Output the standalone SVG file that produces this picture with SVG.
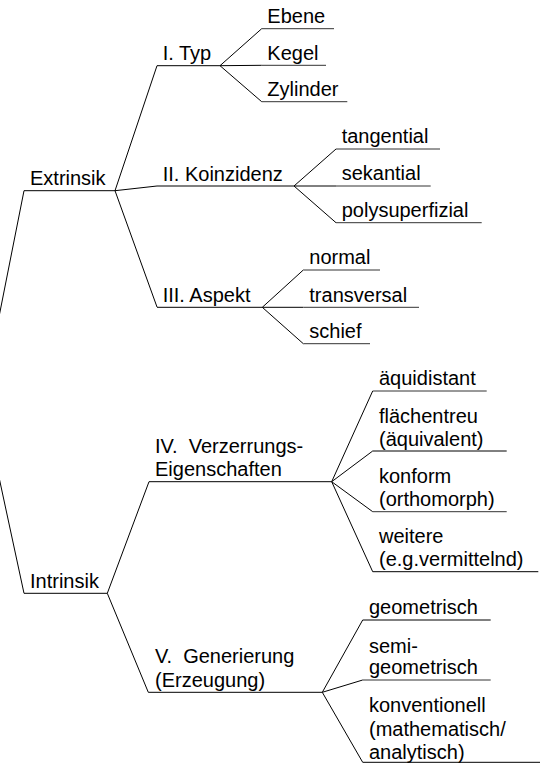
<svg xmlns="http://www.w3.org/2000/svg" width="550" height="764" viewBox="0 0 550 764">
<style>
text{font-family:"Liberation Sans",Arial,sans-serif;font-size:20px;fill:#000;white-space:pre}
line,polyline{stroke:#000;stroke-width:1;fill:none}
.u{stroke:#333}
</style>
<rect width="550" height="764" fill="#fff"/>
<g id="connectors">
<line x1="24" y1="190.7" x2="-6" y2="342"/>
<line x1="24" y1="593.3" x2="-6" y2="454"/>
<line x1="115" y1="190.7" x2="157" y2="65.7"/>
<line x1="115" y1="190.7" x2="157" y2="186"/>
<line x1="115" y1="190.7" x2="157" y2="307"/>
<line x1="220" y1="65.7" x2="261.7" y2="28.7"/>
<line x1="220" y1="65.7" x2="261.7" y2="65.3"/>
<line x1="220" y1="65.7" x2="261.7" y2="101.7"/>
<line x1="294" y1="186" x2="336" y2="149"/>
<line x1="294" y1="186" x2="336" y2="186"/>
<line x1="294" y1="186" x2="336" y2="222.7"/>
<line x1="262.3" y1="307.3" x2="303.3" y2="270"/>
<line x1="262.3" y1="307.3" x2="303.3" y2="307.3"/>
<line x1="262.3" y1="307.3" x2="303.3" y2="343.7"/>
<line x1="107.3" y1="593.3" x2="149" y2="481.7"/>
<line x1="107.3" y1="593.3" x2="148.3" y2="692.3"/>
<line x1="331.7" y1="481.7" x2="372.7" y2="391"/>
<line x1="331.7" y1="481.7" x2="372.7" y2="451"/>
<line x1="331.7" y1="481.7" x2="372.7" y2="511.7"/>
<line x1="331.7" y1="481.7" x2="372.7" y2="571.7"/>
<line x1="322.3" y1="692.3" x2="362.7" y2="620"/>
<line x1="322.3" y1="692.3" x2="362.7" y2="680"/>
<line x1="322.3" y1="692.3" x2="362.7" y2="762.3"/>
</g>
<g id="extrinsik"><line x1="24" y1="190.7" x2="115" y2="190.7"/><text x="30" y="185">Extrinsik</text></g>
<g id="typ"><line x1="157" y1="65.7" x2="220" y2="65.7"/><text x="162.7" y="60">I. Typ</text></g>
<g id="ebene"><line class="u" x1="261.7" y1="28.7" x2="334" y2="28.7"/><text x="267.3" y="23">Ebene</text></g>
<g id="kegel"><line class="u" x1="261.7" y1="65.3" x2="326" y2="65.3"/><text x="267.3" y="59.5">Kegel</text></g>
<g id="zylinder"><line class="u" x1="261.7" y1="101.7" x2="347.3" y2="101.7"/><text x="267.3" y="96">Zylinder</text></g>
<g id="koinzidenz"><line x1="157" y1="186" x2="294" y2="186"/><text x="162.7" y="180.5">II. Koinzidenz</text></g>
<g id="tangential"><line class="u" x1="336" y1="149" x2="440" y2="149"/><text x="341.7" y="143.3">tangential</text></g>
<g id="sekantial"><line class="u" x1="336" y1="186" x2="430.7" y2="186"/><text x="341.7" y="180.3">sekantial</text></g>
<g id="polysuperfizial"><line class="u" x1="336" y1="222.7" x2="481.7" y2="222.7"/><text x="341.7" y="217">polysuperfizial</text></g>
<g id="aspekt"><line x1="157" y1="307.3" x2="262.3" y2="307.3"/><text x="162.7" y="301.5">III. Aspekt</text></g>
<g id="normal"><line class="u" x1="303.3" y1="270" x2="380" y2="270"/><text x="309.3" y="264.3">normal</text></g>
<g id="transversal"><line class="u" x1="303.3" y1="307.3" x2="419" y2="307.3"/><text x="309.3" y="301.5">transversal</text></g>
<g id="schief"><line class="u" x1="303.3" y1="343.7" x2="370" y2="343.7"/><text x="309.3" y="338">schief</text></g>
<g id="intrinsik"><line x1="24" y1="593.3" x2="107.3" y2="593.3"/><text x="30" y="587.5">Intrinsik</text></g>
<g id="verzerrung"><line x1="149" y1="481.7" x2="331.7" y2="481.7"/><text x="155" y="452.7">IV.  Verzerrungs-</text><text x="155" y="476">Eigenschaften</text></g>
<g id="aequidistant"><line class="u" x1="372.7" y1="391" x2="486.7" y2="391"/><text x="379" y="385">äquidistant</text></g>
<g id="flaechentreu"><line x1="372.7" y1="451" x2="506.7" y2="451"/><text x="379" y="422.7">flächentreu</text><text x="379" y="446.3">(äquivalent)</text></g>
<g id="konform"><line class="u" x1="372.7" y1="511.7" x2="506.7" y2="511.7"/><text x="379" y="482.7">konform</text><text x="379" y="506.3">(orthomorph)</text></g>
<g id="weitere"><line x1="372.7" y1="571.7" x2="538.3" y2="571.7"/><text x="379" y="542.7">weitere</text><text x="379" y="566.3">(e.g.vermittelnd)</text></g>
<g id="generierung"><line x1="148.3" y1="692.3" x2="322.3" y2="692.3"/><text x="155" y="663.3">V.  Generierung</text><text x="155" y="686.7">(Erzeugung)</text></g>
<g id="geometrisch"><line x1="362.7" y1="620" x2="490.7" y2="620"/><text x="369" y="613.5">geometrisch</text></g>
<g id="semigeometrisch"><line class="u" x1="362.7" y1="680" x2="490.7" y2="680"/><text x="369" y="652.5">semi-</text><text x="369" y="674">geometrisch</text></g>
<g id="konventionell"><line x1="362.7" y1="762.3" x2="540" y2="762.3"/><text x="369" y="711.7">konventionell</text><text x="369" y="735.5">(mathematisch/</text><text x="369" y="759">analytisch)</text></g>
</svg>
